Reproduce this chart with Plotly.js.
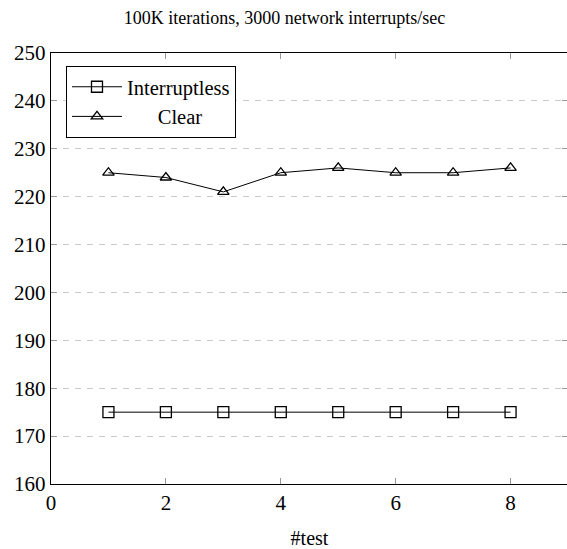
<!DOCTYPE html>
<html>
<head>
<meta charset="utf-8">
<script src="https://cdn.plot.ly/plotly-3.0.1.min.js"></script>
<style>
html,body{margin:0;padding:0;overflow:hidden;background:#fff;}
#chart{width:569px;height:549px;}
</style>
</head>
<body>
<div id="chart"></div>
<script>
const tests = [1, 2, 3, 4, 5, 6, 7, 8];
const interruptless = [175, 175, 175, 175, 175, 175, 175, 175];
const clear = [225, 224, 221, 225, 226, 225, 225, 226];
const seriesNames = ["Interruptless", "\u00a0\u00a0\u00a0\u00a0\u00a0\u00a0Clear"];
const xTicks = [0, 2, 4, 6, 8];
const yTicks = [160, 170, 180, 190, 200, 210, 220, 230, 240, 250];

const font = "Liberation Serif";

const traces = [
  {
    x: tests, y: interruptless, name: seriesNames[0], type: "scatter", mode: "lines+markers",
    line: {color: "#000", width: 1},
    marker: {symbol: "square-open", size: 11, color: "#000", line: {width: 1.3, color: "#000"}}
  },
  {
    x: tests, y: clear, name: seriesNames[1], type: "scatter", mode: "lines+markers",
    line: {color: "#000", width: 1},
    marker: {symbol: "triangle-up-open", size: 10, color: "#000", line: {width: 1.3, color: "#000"}}
  }
];

const layout = {
  width: 569, height: 549,
  margin: {l: 51, r: 1, t: 53, b: 65},
  paper_bgcolor: "#fff", plot_bgcolor: "#fff",
  font: {family: font, size: 21, color: "#000"},
  title: {text: "100K iterations, 3000 network interrupts/sec", font: {family: font, size: 18, color: "#000"},
          xref: "container", x: 0.5, xanchor: "center", yref: "container", y: 0.967, yanchor: "middle"},
  showlegend: true,
  legend: {x: 0.029, y: 0.97, xanchor: "left", yanchor: "top", bordercolor: "#000", borderwidth: 1,
           bgcolor: "#fff", font: {family: font, size: 20.5, color: "#000"}, tracegroupgap: 0,
           itemwidth: 50},
  xaxis: {
    range: [0, 9], tickvals: xTicks, ticktext: xTicks.map(String),
    showgrid: false, zeroline: false,
    showline: true, linecolor: "#000", linewidth: 1.2, mirror: "ticks",
    ticks: "inside", ticklen: 6, tickcolor: "#999", tickwidth: 1,
    tickfont: {family: font, size: 21, color: "#000"},
    title: {text: "#test", font: {family: font, size: 20, color: "#000"}, standoff: 18}
  },
  yaxis: {
    range: [160, 250], tickvals: yTicks, ticktext: yTicks.map(String),
    showgrid: true, gridcolor: "#cccccc", griddash: "6px,6px", gridwidth: 1,
    zeroline: false,
    showline: true, linecolor: "#000", linewidth: 1.2, mirror: "ticks",
    ticks: "inside", ticklen: 6, tickcolor: "#999", tickwidth: 1,
    tickfont: {family: font, size: 21, color: "#000"}
  }
};

Plotly.newPlot("chart", traces, layout, {displayModeBar: false, staticPlot: true});
</script>
</body>
</html>
